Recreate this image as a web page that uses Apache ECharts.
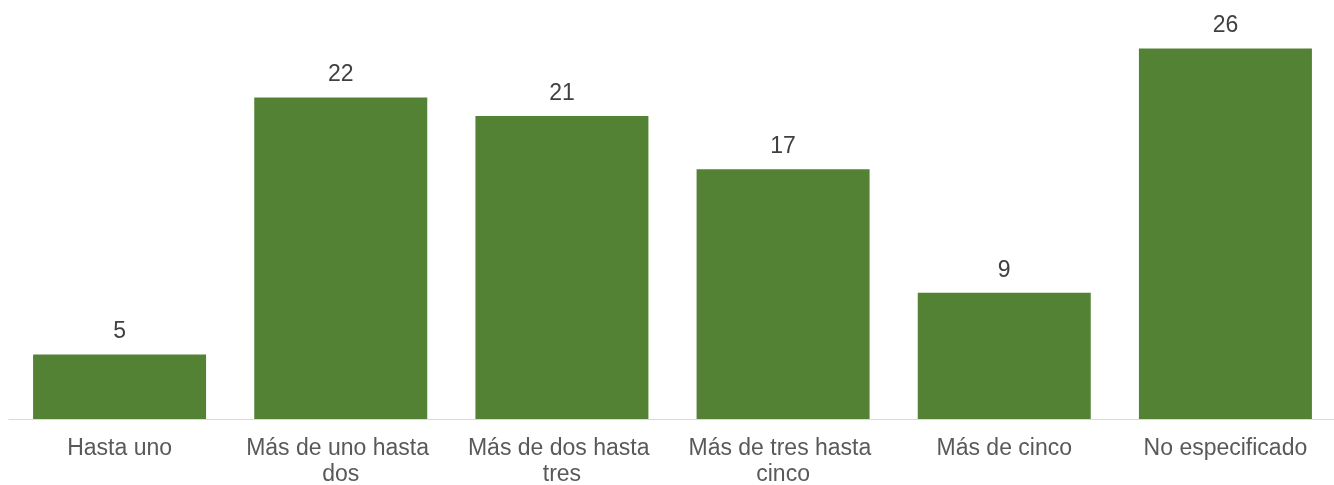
<!DOCTYPE html>
<html>
<head>
<meta charset="utf-8">
<script src="https://cdn.jsdelivr.net/npm/echarts@6/dist/echarts.min.js"></script>
<style>
html,body{margin:0;padding:0;background:#fff;}
#chart{width:1334px;height:485px;}
</style>
</head>
<body>
<div id="chart"></div>
<script>
const categories = ["Hasta uno", "Más de uno hasta dos", "Más de dos hasta tres", "Más de tres hasta cinco", "Más de cinco", "No especificado"];
const values = [4.5, 22.4, 21.1, 17.4, 8.8, 25.8];

const FONT = "'Liberation Sans', Arial, sans-serif";
const chart = echarts.init(document.getElementById('chart'), null, {renderer: 'canvas'});
chart.setOption({
  animation: false,
  backgroundColor: '#ffffff',
  grid: {left: 9, right: -2, top: 17, bottom: 66, containLabel: false, outerBoundsMode: 'none'},
  xAxis: {
    type: 'category',
    data: categories,
    axisLine: {show: true, lineStyle: {color: '#d9d9d9', width: 1}},
    axisTick: {show: false},
    axisLabel: {
      interval: 0,
      color: '#595959',
      fontFamily: FONT,
      fontSize: 23,
      lineHeight: 26,
      margin: 17,
      width: 205,
      overflow: 'break'
    }
  },
  yAxis: {
    type: 'value',
    min: 0,
    max: 28,
    show: false,
    splitLine: {show: false}
  },
  series: [{
    type: 'bar',
    data: values,
    barWidth: 173,
    itemStyle: {color: '#548235'},
    label: {
      show: true,
      position: 'top',
      distance: 11,
      color: '#404040',
      fontFamily: FONT,
      fontSize: 23,
      formatter: p => String(Math.round(p.value))
    }
  }]
});
</script>
</body>
</html>
